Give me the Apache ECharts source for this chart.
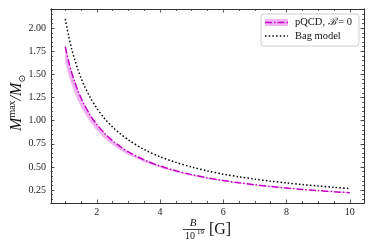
<!DOCTYPE html>
<html>
<head>
<meta charset="utf-8">
<script src="https://cdn.jsdelivr.net/npm/echarts@6/dist/echarts.min.js"></script>
<style>
html,body{margin:0;padding:0;background:#fff;}
#chart{width:374px;height:249px;}
</style>
</head>
<body>
<div id="chart"></div>
<script>
// ---- data ----
const B = [1, 1.1, 1.2, 1.3, 1.4, 1.5, 1.6, 1.8, 2.0, 2.25, 2.5, 2.75, 3.0, 3.5, 4.0, 4.5, 5.0, 5.5, 6.0, 6.5, 7.0, 7.5, 8.0, 8.5, 9.0, 9.5, 10];
const pqcd = [1.80, 1.65, 1.525, 1.42, 1.325, 1.245, 1.175, 1.055, 0.958, 0.862, 0.782, 0.718, 0.662, 0.576, 0.510, 0.458, 0.417, 0.381, 0.353, 0.328, 0.307, 0.288, 0.272, 0.257, 0.244, 0.232, 0.222];
const pqcdLow = [1.63, 1.50, 1.392, 1.298, 1.217, 1.147, 1.085, 0.980, 0.894, 0.807, 0.737, 0.678, 0.629, 0.550, 0.490, 0.443, 0.403, 0.372, 0.345, 0.322, 0.301, 0.284, 0.268, 0.255, 0.242, 0.230, 0.218];
const pqcdHigh = [1.82, 1.665, 1.54, 1.432, 1.336, 1.254, 1.183, 1.061, 0.963, 0.866, 0.786, 0.721, 0.665, 0.578, 0.512, 0.460, 0.419, 0.383, 0.355, 0.330, 0.309, 0.290, 0.274, 0.259, 0.246, 0.234, 0.225];
const bag = [2.10, 1.928, 1.782, 1.66, 1.555, 1.462, 1.38, 1.245, 1.135, 1.022, 0.93, 0.856, 0.792, 0.688, 0.610, 0.549, 0.499, 0.457, 0.422, 0.393, 0.368, 0.346, 0.327, 0.309, 0.294, 0.280, 0.266];
const xMajor = [2, 4, 6, 8, 10];
const xMinor = [1, 1.5, 2.5, 3, 3.5, 4.5, 5, 5.5, 6.5, 7, 7.5, 8.5, 9, 9.5];
const yMajor = [0.25, 0.50, 0.75, 1.00, 1.25, 1.50, 1.75, 2.00];
const yMinor = [];
for (let i = 3; i <= 44; i++) { yMinor.push(+(i * 0.05).toFixed(2)); }

const XMIN = 0.55, XMAX = 10.45, YMIN = 0.11, YMAX = 2.208;
const serif = "'Liberation Serif','DejaVu Serif',serif";
const axisCol = '#333';
const mag = '#c400c4';
const bandCol = 'rgba(236,130,236,0.6)';

function pairs(xs, ys) { return xs.map((x, i) => [x, ys[i]]); }

function xAx(pos, custom, len, labels) {
  return {
    type: 'value', position: pos, min: XMIN, max: XMAX,
    axisLine: { show: true, onZero: false, lineStyle: { color: axisCol, width: 1 } },
    axisTick: { show: true, inside: true, length: len, customValues: custom, lineStyle: { color: axisCol, width: 0.8 } },
    axisLabel: labels ? { show: true, customValues: xMajor, margin: 4, color: '#222', fontFamily: serif, fontSize: 10,
      formatter: v => String(Math.round(v)) } : { show: false },
    splitLine: { show: false }
  };
}
function yAx(pos, custom, len, labels) {
  return {
    type: 'value', position: pos, min: YMIN, max: YMAX,
    axisLine: { show: true, onZero: false, lineStyle: { color: axisCol, width: 1 } },
    axisTick: { show: true, inside: true, length: len, customValues: custom, lineStyle: { color: axisCol, width: 0.8 } },
    axisLabel: labels ? { show: true, customValues: yMajor, margin: 5, color: '#222', fontFamily: serif, fontSize: 10,
      formatter: v => v.toFixed(2) } : { show: false },
    splitLine: { show: false }
  };
}

const chart = echarts.init(document.getElementById('chart'), null, { renderer: 'canvas' });
chart.setOption({
  animation: false,
  backgroundColor: '#fff',
  grid: { left: 51, right: 10, top: 9, bottom: 46, containLabel: false },
  xAxis: [
    xAx('bottom', xMajor, 3.5, true),
    xAx('top', xMajor, 3.5, false),
    xAx('bottom', xMinor, 2, false),
    xAx('top', xMinor, 2, false)
  ],
  yAxis: [
    yAx('left', yMajor, 3.5, true),
    yAx('right', yMajor, 3.5, false),
    yAx('left', yMinor, 2, false),
    yAx('right', yMinor, 2, false)
  ],
  series: [
    { type: 'custom', name: 'band', data: [0], silent: true, z: 1,
      renderItem: function (params, api) {
        const pts = [];
        for (let i = 0; i < B.length; i++) pts.push(api.coord([B[i], pqcdHigh[i]]));
        for (let i = B.length - 1; i >= 0; i--) pts.push(api.coord([B[i], pqcdLow[i]]));
        return { type: 'polygon', shape: { points: pts }, style: { fill: bandCol, stroke: 'none' } };
      } },
    { type: 'line', name: 'pQCD', data: pairs(B, pqcd), symbol: 'none', smooth: 0.3,
      lineStyle: { color: mag, width: 1.5, type: [7, 2, 1.5, 2] }, z: 3 },
    { type: 'line', name: 'Bag model', data: pairs(B, bag), symbol: 'none', smooth: 0.3,
      lineStyle: { color: '#000', width: 1.5, type: [1.5, 2.2] }, z: 3 }
  ],
  graphic: [
    // legend
    { type: 'rect', shape: { x: 261, y: 14, width: 98, height: 32, r: 3 },
      style: { fill: 'rgba(255,255,255,0.85)', stroke: '#d0d0d0', lineWidth: 1 }, z: 10 },
    { type: 'rect', shape: { x: 265, y: 19, width: 23, height: 7 },
      style: { fill: bandCol }, z: 11 },
    { type: 'line', shape: { x1: 265, y1: 22.5, x2: 288, y2: 22.5 },
      style: { stroke: mag, lineWidth: 1.5, lineDash: [7, 2, 1.5, 2] }, z: 12 },
    { type: 'text', x: 295, y: 22.5, z: 12,
      style: { text: 'pQCD, {c|ℬ} = 0', fontFamily: serif, fontSize: 10.5, fill: '#111', verticalAlign: 'middle', align: 'left',
        rich: { c: { fontFamily: "'DejaVu Serif',serif", fontStyle: 'italic', fontSize: 10, fill: '#111' } } } },
    { type: 'line', shape: { x1: 265, y1: 36, x2: 288, y2: 36 },
      style: { stroke: '#000', lineWidth: 1.5, lineDash: [1.5, 2.2] }, z: 12 },
    { type: 'text', x: 295, y: 36, z: 12,
      style: { text: 'Bag model', fontFamily: serif, fontSize: 10.5, fill: '#111', verticalAlign: 'middle', align: 'left' } },
    // y axis title
    { type: 'text', x: 17, y: 103, rotation: Math.PI / 2, z: 12,
      style: { text: '{m|M}{sup|max}{m|/M}{sub|⊙}', align: 'center', verticalAlign: 'middle',
        rich: {
          m: { fontFamily: serif, fontStyle: 'italic', fontSize: 16, fill: '#111', lineHeight: 20, verticalAlign: 'middle' },
          sup: { fontFamily: serif, fontSize: 10, fill: '#111', verticalAlign: 'top', lineHeight: 10 },
          sub: { fontFamily: "'DejaVu Sans',sans-serif", fontSize: 9, fill: '#111', verticalAlign: 'bottom', lineHeight: 9 }
        } } },
    // x axis title
    { type: 'text', x: 193, y: 223, z: 12,
      style: { text: 'B', fontFamily: serif, fontStyle: 'italic', fontSize: 11, fill: '#111', align: 'center', verticalAlign: 'middle' } },
    { type: 'line', shape: { x1: 183, y1: 229.5, x2: 205, y2: 229.5 }, style: { stroke: '#111', lineWidth: 0.8 }, z: 12 },
    { type: 'text', x: 190, y: 236, z: 12,
      style: { text: '10', fontFamily: serif, fontSize: 10, fill: '#111', align: 'center', verticalAlign: 'middle' } },
    { type: 'text', x: 200.5, y: 232.5, z: 12,
      style: { text: '19', fontFamily: serif, fontSize: 7, fill: '#111', align: 'center', verticalAlign: 'middle' } },
    { type: 'text', x: 220, y: 229.5, z: 12,
      style: { text: '[G]', fontFamily: serif, fontSize: 16, fill: '#111', align: 'center', verticalAlign: 'middle' } }
  ]
});
</script>
</body>
</html>
